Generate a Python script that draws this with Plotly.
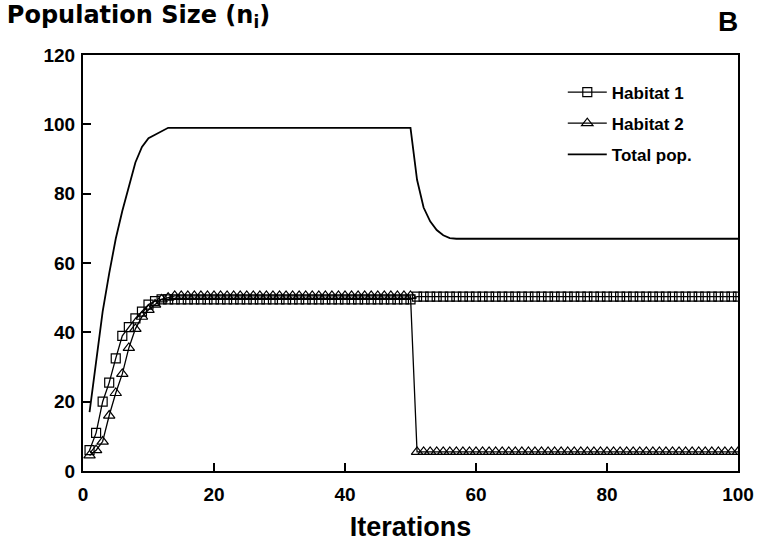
import plotly.graph_objects as go

iterations = list(range(1, 101))

habitat1 = [
    6, 11, 20, 25.5, 32.5, 39, 41.5, 44, 46, 48,
    49, 49.5, 49.5, 49.5, 49.5, 49.5, 49.5, 49.5, 49.5, 49.5,
    49.5, 49.5, 49.5, 49.5, 49.5, 49.5, 49.5, 49.5, 49.5, 49.5,
    49.5, 49.5, 49.5, 49.5, 49.5, 49.5, 49.5, 49.5, 49.5, 49.5,
    49.5, 49.5, 49.5, 49.5, 49.5, 49.5, 49.5, 49.5, 49.5, 49.5,
    50.3, 50.3, 50.3, 50.3, 50.3, 50.3, 50.3, 50.3, 50.3, 50.3,
    50.3, 50.3, 50.3, 50.3, 50.3, 50.3, 50.3, 50.3, 50.3, 50.3,
    50.3, 50.3, 50.3, 50.3, 50.3, 50.3, 50.3, 50.3, 50.3, 50.3,
    50.3, 50.3, 50.3, 50.3, 50.3, 50.3, 50.3, 50.3, 50.3, 50.3,
    50.3, 50.3, 50.3, 50.3, 50.3, 50.3, 50.3, 50.3, 50.3, 50.3,
]

habitat2 = [
    4.5, 6, 8.5, 16, 22.5, 28, 35.5, 41, 44.5, 46.5,
    48, 49.5, 50, 50.5, 50.5, 50.5, 50.5, 50.5, 50.5, 50.5,
    50.5, 50.5, 50.5, 50.5, 50.5, 50.5, 50.5, 50.5, 50.5, 50.5,
    50.5, 50.5, 50.5, 50.5, 50.5, 50.5, 50.5, 50.5, 50.5, 50.5,
    50.5, 50.5, 50.5, 50.5, 50.5, 50.5, 50.5, 50.5, 50.5, 50.5,
    5.5, 5.5, 5.5, 5.5, 5.5, 5.5, 5.5, 5.5, 5.5, 5.5,
    5.5, 5.5, 5.5, 5.5, 5.5, 5.5, 5.5, 5.5, 5.5, 5.5,
    5.5, 5.5, 5.5, 5.5, 5.5, 5.5, 5.5, 5.5, 5.5, 5.5,
    5.5, 5.5, 5.5, 5.5, 5.5, 5.5, 5.5, 5.5, 5.5, 5.5,
    5.5, 5.5, 5.5, 5.5, 5.5, 5.5, 5.5, 5.5, 5.5, 5.5,
]

total_pop = [
    17, 32, 46, 57, 67, 75, 82, 89, 93.5, 96,
    97, 98, 99, 99, 99, 99, 99, 99, 99, 99,
    99, 99, 99, 99, 99, 99, 99, 99, 99, 99,
    99, 99, 99, 99, 99, 99, 99, 99, 99, 99,
    99, 99, 99, 99, 99, 99, 99, 99, 99, 99,
    84, 76, 72, 69.5, 68, 67.2, 67, 67, 67, 67,
    67, 67, 67, 67, 67, 67, 67, 67, 67, 67,
    67, 67, 67, 67, 67, 67, 67, 67, 67, 67,
    67, 67, 67, 67, 67, 67, 67, 67, 67, 67,
    67, 67, 67, 67, 67, 67, 67, 67, 67, 67,
]

x_ticks = [0, 20, 40, 60, 80, 100]
y_ticks = [0, 20, 40, 60, 80, 100, 120]

TICK_FONT = dict(family="Liberation Sans", size=19, color="black", weight="bold")

fig = go.Figure()
fig.add_trace(go.Scatter(
    x=iterations, y=habitat1, name="Habitat 1", mode="lines+markers",
    legendgroup="h1",
    line=dict(color="black", width=1.3),
    marker=dict(symbol="square-open", size=9, color="black", line=dict(width=1.2)),
))
fig.add_trace(go.Scatter(
    x=iterations, y=habitat2, name="Habitat 2", mode="lines+markers",
    legendgroup="h2",
    line=dict(color="black", width=1.3),
    marker=dict(symbol="triangle-up-open", size=10, color="black", line=dict(width=1.2)),
))
fig.add_trace(go.Scatter(
    x=iterations, y=total_pop, name="Total pop.", mode="lines",
    legendgroup="tot",
    line=dict(color="black", width=1.8),
))

fig.update_layout(
    width=757, height=544,
    margin=dict(l=82.5, r=18.5, t=55, b=73, autoexpand=False),
    plot_bgcolor="white", paper_bgcolor="white",
    showlegend=True,
    legend=dict(
        x=0.7325, y=0.953, xanchor="left", yanchor="top",
        bgcolor="rgba(0,0,0,0)", borderwidth=0,
        itemwidth=39, traceorder="grouped", tracegroupgap=6,
        font=dict(family="Liberation Sans", size=17, color="black", weight="bold"),
    ),
    title=dict(
        text="Population Size (n<sub>i</sub>)",
        xref="container", yref="container",
        x=0.009, xanchor="left", y=1 - 15 / 544, yanchor="middle",
        font=dict(family="DejaVu Sans", size=24, color="black", weight="bold"),
    ),
    annotations=[dict(
        text="B", xref="paper", yref="paper", x=0.985, y=1.08,
        xanchor="center", yanchor="middle", showarrow=False,
        font=dict(family="Liberation Sans", size=28, color="black", weight="bold"),
    )],
)

fig.update_xaxes(
    range=[0, 100], tickvals=x_ticks, ticktext=[str(v) for v in x_ticks],
    ticks="inside", ticklen=8, tickwidth=1.5, tickcolor="black",
    showline=True, linewidth=2, linecolor="black", mirror=True,
    showgrid=False, zeroline=False, tickfont=TICK_FONT, ticklabelstandoff=5,
    automargin=False,
    title=dict(text="Iterations", standoff=13,
               font=dict(family="Liberation Sans", size=27, color="black", weight="bold")),
)
fig.update_yaxes(
    range=[0, 120], tickvals=y_ticks, ticktext=[str(v) for v in y_ticks],
    ticks="inside", ticklen=8, tickwidth=1.5, tickcolor="black",
    showline=True, linewidth=2, linecolor="black", mirror=True,
    showgrid=False, zeroline=False, tickfont=TICK_FONT, ticklabelstandoff=2,
    automargin=False,
)

fig.write_html(
    "out.html",
    config={"displayModeBar": False},
    post_script="document.body.style.margin='0';document.body.style.padding='0';",
)
